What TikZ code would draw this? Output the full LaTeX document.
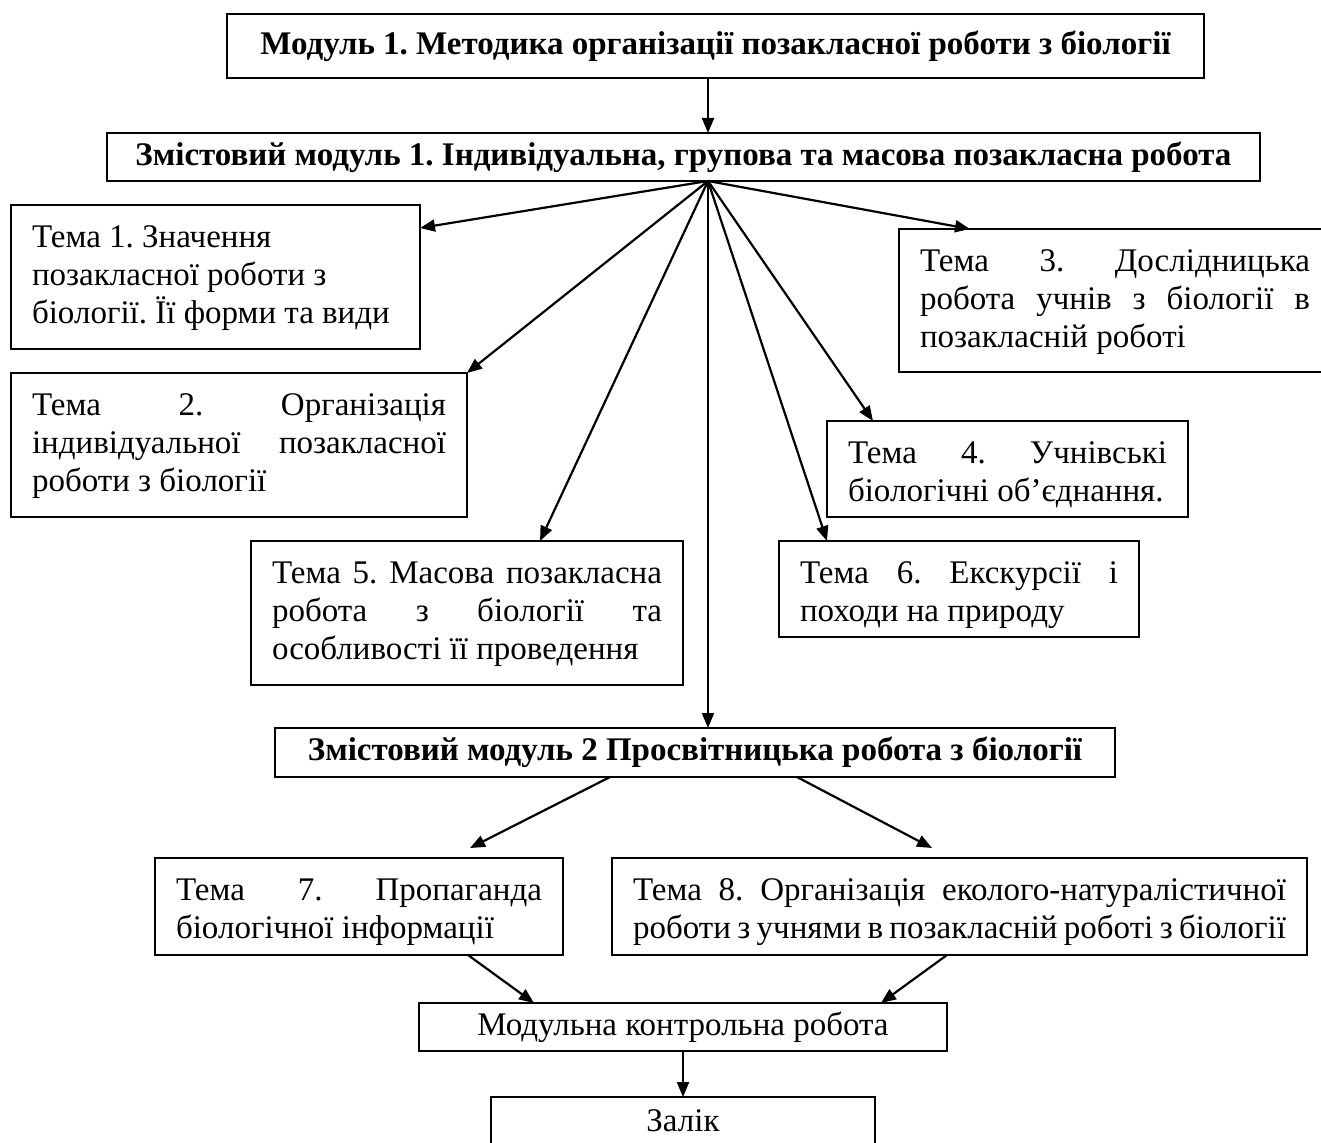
\documentclass[tikz,border=0pt]{standalone}
\usepackage{fontspec}
\setmainfont{Liberation Serif}
\usetikzlibrary{arrows.meta}
\frenchspacing
\newcommand{\tbx}[3]{\parbox[c][#2][t]{#1}{\frenchspacing\hyphenpenalty=10000 \exhyphenpenalty=10000 \strut #3}}
\begin{document}
\begin{tikzpicture}[x=1pt,y=-1pt,
  box/.style={draw, line width=2.2pt, inner sep=0pt, outer sep=0pt, font=\fontsize{33}{37.9}\selectfont\frenchspacing},
  hdr/.style={box, font=\fontsize{33}{37.9}\selectfont\bfseries\frenchspacing, align=center},
  plain/.style={box, align=center},
  topic/.style={box, inner xsep=21pt, inner ysep=16pt},
  arr/.style={line width=2.2pt, -{Triangle[length=15pt,width=12pt]}}]
\useasboundingbox (0,0) rectangle (1321,1142);
\clip (0,0) rectangle (1321,1142);

\node[hdr, minimum width=977pt, minimum height=64pt] (m1) at (715.5,46) {Модуль 1. Методика організації позакласної роботи з біології};
\node[hdr, minimum width=1153pt, minimum height=48pt] (zm1) at (683.5,157) {Змістовий модуль 1. Індивідуальна, групова та масова позакласна робота};

\node[topic] (t1) at (215.5,277) {\tbx{367pt}{112pt}{\raggedright Тема 1. Значення\\ позакласної роботи з\\ біології. Її форми та види}};
\node[topic] (t2) at (239,445) {\tbx{414pt}{112pt}{Тема 2. Організація\linebreak індивідуальної позакласної\linebreak роботи з біології}};
\node[topic] (t3) at (1115,300.5) {\tbx{390pt}{111pt}{Тема 3. Дослідницька\linebreak робота учнів з біології в\linebreak позакласній роботі}};
\node[topic] (t4) at (1007.5,469) {\tbx{319pt}{64pt}{Тема 4. Учнівські\linebreak біологічні об’єднання.}};
\node[topic] (t5) at (467,613) {\tbx{390pt}{112pt}{Тема 5. Масова позакласна\linebreak робота з біології та\linebreak особливості її проведення}};
\node[topic] (t6) at (959,589) {\tbx{318pt}{64pt}{Тема 6. Екскурсії і\linebreak походи на природу}};

\node[hdr, minimum width=840pt, minimum height=49pt] (zm2) at (695,752.5) {Змістовий модуль 2 Просвітницька робота з біології};

\node[topic] (t7) at (359,906.5) {\tbx{366pt}{65pt}{Тема 7. Пропаганда\linebreak біологічної інформації}};
\node[topic] (t8) at (959.5,906.5) {\tbx{653pt}{65pt}{Тема 8. Організація еколого-натуралістичної\linebreak роботи з учнями в позакласній роботі з біології}};

\node[plain, minimum width=528pt, minimum height=48pt] (mkr) at (683,1027) {Модульна контрольна робота};
\node[plain, minimum width=384pt, minimum height=48pt] (zal) at (683,1121) {Залік};

\coordinate (hub) at (708,181);

\draw[arr] (m1.south -| hub) -- (zm1.north -| hub);
\draw[arr] (hub) -- ([yshift=-23pt]t1.north east);
\draw[arr] (hub) -- (t2.north east);
\draw[arr] (hub) -- ([xshift=289pt]t5.north west);
\draw[arr] (hub) -- (zm2.north -| hub);
\draw[arr] (hub) -- ([xshift=48pt]t6.north west);
\draw[arr] (hub) -- ([xshift=46pt]t4.north west);
\draw[arr] (hub) -- ([xshift=71pt]t3.north west);

\draw[arr] ([xshift=335pt]zm2.south west) -- ([xshift=315pt,yshift=10pt]t7.north west);
\draw[arr] ([xshift=522pt]zm2.south west) -- ([xshift=320pt,yshift=10pt]t8.north west);
\draw[arr] ([xshift=313pt]t7.south west) -- ([xshift=115pt]mkr.north west);
\draw[arr] ([xshift=335pt]t8.south west) -- ([xshift=462pt]mkr.north west);
\draw[arr] (mkr.south) -- (zal.north);
\end{tikzpicture}
\end{document}
